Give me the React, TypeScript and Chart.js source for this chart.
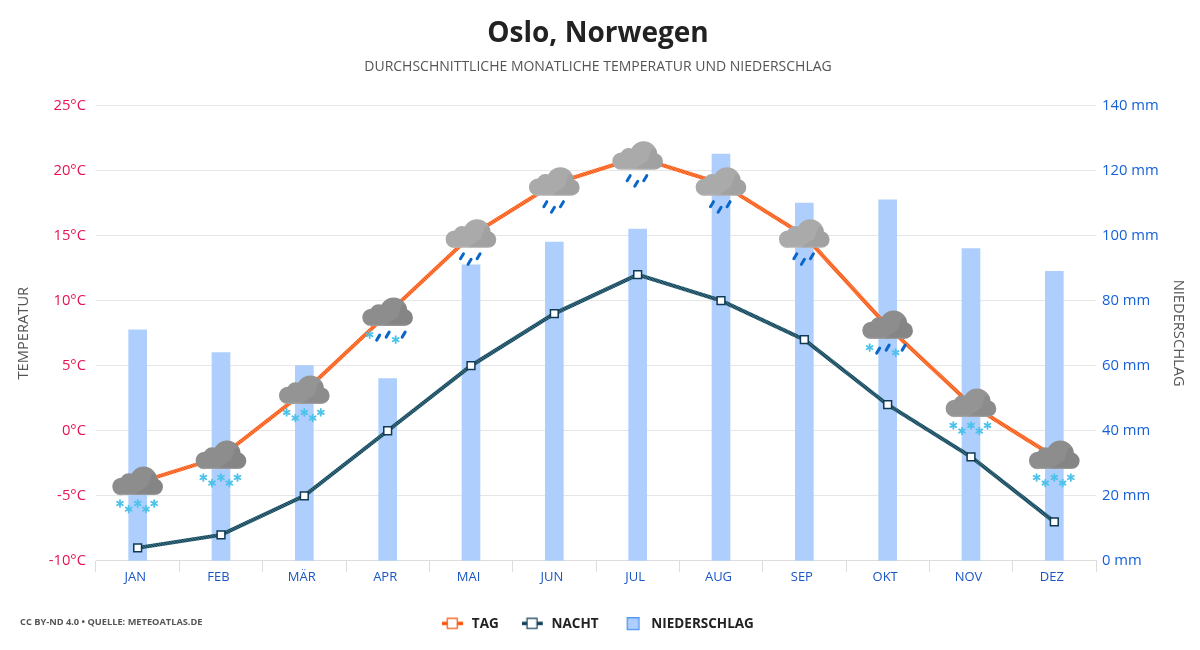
import React, { useEffect, useRef } from "react";
import { Chart, registerables } from "chart.js";

Chart.register(...registerables);

const months = ["JAN", "FEB", "MÄR", "APR", "MAI", "JUN", "JUL", "AUG", "SEP", "OKT", "NOV", "DEZ"];
const dayTemps = [-4, -2, 3, 9, 15, 19, 21, 19, 15, 8, 2, -2];
const nightTemps = [-9, -8, -5, 0, 5, 9, 12, 10, 7, 2, -2, -7];
const rainfall = [71, 64, 60, 56, 91, 98, 102, 125, 110, 111, 96, 89];
const weatherKinds = ["snow", "snow", "snow", "mix", "rain", "rain", "rain", "rain", "rain", "mix", "snow", "snow"];
const cloudShades = ["#8d8d8d", "#8d8d8d", "#949494", "#8d8d8d", "#aaaaaa", "#aaaaaa", "#aaaaaa", "#aaaaaa", "#aaaaaa", "#8d8d8d", "#949494", "#8d8d8d"];

const FONT = "'Open Sans', sans-serif";

function hatch(base: string, stripe: string) {
  const c = document.createElement("canvas");
  c.width = 3;
  c.height = 3;
  const g = c.getContext("2d")!;
  g.fillStyle = base;
  g.fillRect(0, 0, 3, 3);
  g.fillStyle = stripe;
  g.fillRect(0, 0, 1, 1);
  g.fillRect(1, 1, 1, 1);
  g.fillRect(2, 2, 1, 1);
  return g.createPattern(c, "repeat")!;
}

function legendLineMark(color: string) {
  const c = document.createElement("canvas");
  c.width = 23;
  c.height = 14;
  const g = c.getContext("2d")!;
  g.fillStyle = color;
  g.fillRect(0, 4.5, 21, 3.4);
  g.fillStyle = "#fff";
  g.strokeStyle = color;
  g.lineWidth = 1.2;
  g.fillRect(5.2, 1.2, 10, 10);
  g.strokeRect(5.2, 1.2, 10, 10);
  return c;
}

function legendBarMark() {
  const c = document.createElement("canvas");
  c.width = 23;
  c.height = 14;
  const g = c.getContext("2d")!;
  g.fillStyle = "#aecffd";
  g.fillRect(5, 0, 13, 13);
  g.strokeStyle = "#4d94f5";
  g.lineWidth = 1.2;
  g.strokeRect(5.6, 0.6, 11.8, 11.8);
  return c;
}

function cloudPath(g: CanvasRenderingContext2D) {
  g.beginPath();
  const bumps = [
    [-16.7, 3.7, 8.7],
    [-9, -1, 8.5],
    [6, -2.5, 13.7],
    [17, 4, 8.3],
  ];
  bumps.forEach(([cx, cy, r]) => {
    g.moveTo(cx + r, cy);
    g.arc(cx, cy, r, 0, Math.PI * 2);
  });
  g.rect(-16.7, 0, 33.7, 12.3);
}

function drawCloud(g: CanvasRenderingContext2D, x: number, y: number, shade: string) {
  g.save();
  g.translate(x, y);
  cloudPath(g);
  g.fillStyle = shade;
  g.fill();
  g.clip();
  g.fillStyle = "rgba(0,0,0,0.05)";
  g.beginPath();
  g.moveTo(-4, 12.5);
  g.lineTo(10, 3);
  g.lineTo(14, -9);
  g.lineTo(27, -9);
  g.lineTo(27, 12.5);
  g.closePath();
  g.fill();
  g.fillStyle = "rgba(255,255,255,0.14)";
  g.fillRect(-26, 11, 52, 1.5);
  g.restore();
}

function drawFlake(g: CanvasRenderingContext2D, x: number, y: number) {
  g.save();
  g.strokeStyle = "#4cc2ea";
  g.lineWidth = 1.8;
  g.lineCap = "round";
  for (let i = 0; i < 3; i++) {
    const a = (i * Math.PI) / 3 + Math.PI / 2;
    g.beginPath();
    g.moveTo(x - Math.cos(a) * 3.4, y - Math.sin(a) * 3.4);
    g.lineTo(x + Math.cos(a) * 3.4, y + Math.sin(a) * 3.4);
    g.stroke();
  }
  g.restore();
}

function drawDrop(g: CanvasRenderingContext2D, x: number, y: number) {
  g.save();
  g.strokeStyle = "#0a66c8";
  g.lineWidth = 3;
  g.lineCap = "round";
  g.beginPath();
  g.moveTo(x - 1.5, y + 2.5);
  g.lineTo(x + 1.5, y - 2.5);
  g.stroke();
  g.restore();
}

const weatherPlugin = {
  id: "weatherIcons",
  afterDatasetsDraw(chart: any) {
    const g: CanvasRenderingContext2D = chart.ctx;
    const points = chart.getDatasetMeta(0).data;
    points.forEach((p: any, i: number) => {
      const x = p.x;
      const y = p.y;
      drawCloud(g, x, y, cloudShades[i]);
      const kind = weatherKinds[i];
      if (kind === "snow") {
        [[-17.7, 20.7], [-9, 26.3], [0, 20.7], [8.3, 26.3], [16.5, 20.7]].forEach(([dx, dy]) => drawFlake(g, x + dx, y + dy));
      } else if (kind === "rain") {
        [[-9, 20.7], [-1.4, 26.3], [7.6, 20.7]].forEach(([dx, dy]) => drawDrop(g, x + dx, y + dy));
      } else {
        drawFlake(g, x - 18, y + 21);
        drawDrop(g, x - 9.5, y + 24);
        drawDrop(g, x, y + 21);
        drawFlake(g, x + 8, y + 26);
        drawDrop(g, x + 16, y + 21);
      }
    });
  },
  afterDraw(chart: any) {
    const g: CanvasRenderingContext2D = chart.ctx;
    g.save();
    g.font = `700 9.25px 'Open Sans', sans-serif`;
    g.fillStyle = "#555555";
    g.textBaseline = "middle";
    g.textAlign = "left";
    g.fillText("CC BY-ND 4.0 • QUELLE: METEOATLAS.DE", 20, 622);
    g.restore();
  },
};

export default function App() {
  const ref = useRef<HTMLCanvasElement>(null);
  useEffect(() => {
    const chart = new Chart(ref.current!, {
      data: {
        labels: months,
        datasets: [
          {
            type: "line",
            label: "TAG",
            data: dayTemps,
            yAxisID: "y",
            borderColor: hatch("#ff7a3a", "#f2571a"),
            borderWidth: 4,
            pointRadius: 0,
            tension: 0,
            order: 1,
          },
          {
            type: "line",
            label: "NACHT",
            data: nightTemps,
            yAxisID: "y",
            borderColor: hatch("#33687a", "#173f55"),
            borderWidth: 4,
            pointRadius: 5.5,
            pointStyle: "rect",
            pointBackgroundColor: "#ffffff",
            pointBorderColor: "#0f3a55",
            pointBorderWidth: 1.5,
            tension: 0,
            order: 2,
          },
          {
            type: "bar",
            label: "NIEDERSCHLAG",
            data: rainfall,
            yAxisID: "y1",
            backgroundColor: "#aecffd",
            borderWidth: 0,
            barThickness: 18,
            order: 3,
          },
        ] as any,
      },
      options: {
        responsive: false,
        animation: false,
        layout: { padding: { left: 7, right: 11, top: 17, bottom: 9 } },
        plugins: {
          title: {
            display: true,
            text: "Oslo, Norwegen",
            color: "#222222",
            font: { family: FONT, size: 28, weight: "bold" },
            padding: { top: 0, bottom: 4 },
          },
          subtitle: {
            display: true,
            text: "DURCHSCHNITTLICHE MONATLICHE TEMPERATUR UND NIEDERSCHLAG",
            color: "#555555",
            font: { family: FONT, size: 14 },
            padding: { top: 4, bottom: 30 },
          },
          legend: {
            position: "bottom",
            labels: {
              usePointStyle: true,
              pointStyleWidth: 23,
              color: "#222222",
              font: { family: FONT, size: 13.5, weight: "bold" },
              padding: 23,
              generateLabels: () => [
                { text: "TAG", pointStyle: legendLineMark("#f9560c"), datasetIndex: 0, fontColor: "#222222", lineWidth: 0 },
                { text: "NACHT", pointStyle: legendLineMark("#0f3f5a"), datasetIndex: 1, fontColor: "#222222", lineWidth: 0 },
                { text: "NIEDERSCHLAG", pointStyle: legendBarMark(), datasetIndex: 2, fontColor: "#222222", lineWidth: 0 },
              ] as any,
            },
          },
          tooltip: { enabled: false },
        },
        scales: {
          x: {
            grid: { drawOnChartArea: false, drawTicks: true, tickLength: 11, color: "#dddddd", offset: true },
            border: { color: "#dddddd" },
            ticks: { color: "#1a56c4", font: { family: FONT, size: 13 }, padding: -2, maxRotation: 0, labelOffset: -2.5 },
            afterFit: (s: any) => { s.height += 11; },
          },
          y: {
            position: "left",
            min: -10,
            max: 25,
            afterFit: (s: any) => { s.width = 89; },
            title: { display: true, text: "TEMPERATUR", color: "#555555", padding: { top: 8, bottom: 4 }, font: { family: FONT, size: 14.7 } },
            grid: { color: "#e6e6e6", drawTicks: false },
            border: { display: false },
            ticks: { stepSize: 5, color: "#e8114f", padding: 10, font: { family: FONT, size: 14.8 }, callback: (v: any) => `${v}°C` },
          },
          y1: {
            position: "right",
            min: 0,
            max: 140,
            afterFit: (s: any) => { s.width = 93; },
            title: { display: true, text: "NIEDERSCHLAG", color: "#555555", padding: { top: 2, bottom: 4 }, font: { family: FONT, size: 14.7 } },
            grid: { drawOnChartArea: false, drawTicks: false },
            border: { display: false },
            ticks: { stepSize: 20, color: "#1560d8", padding: 6, font: { family: FONT, size: 14.8 }, callback: (v: any) => `${v} mm` },
          },
        },
      } as any,
      plugins: [weatherPlugin],
    } as any);
    return () => chart.destroy();
  }, []);
  return (
    <canvas
      ref={ref}
      width={1200}
      height={650}
      style={{ position: "absolute", left: 0, top: 0, display: "block" }}
    />
  );
}
